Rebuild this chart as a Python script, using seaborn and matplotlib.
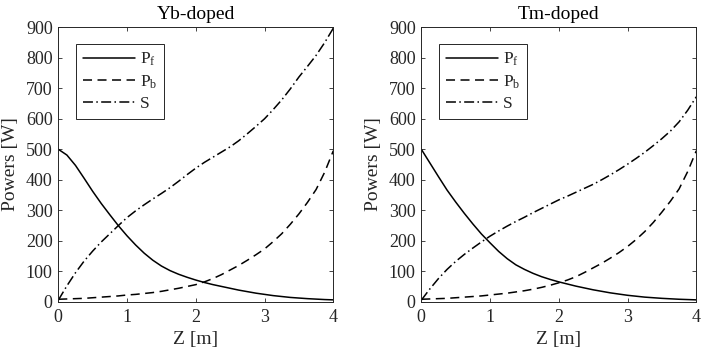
import matplotlib
matplotlib.use("Agg")
import matplotlib.pyplot as plt
import seaborn as sns
import pandas as pd

# ---- data ----
z = [0, 0.125, 0.25, 0.375, 0.5, 0.625, 0.75, 0.875, 1.0, 1.125, 1.25, 1.375, 1.5,
     1.625, 1.75, 1.875, 2.0, 2.125, 2.25, 2.375, 2.5, 2.625, 2.75, 2.875, 3.0,
     3.125, 3.25, 3.375, 3.5, 3.625, 3.75, 3.875, 4.0]

yb_pf = [500, 481, 447, 405, 362, 322, 285, 249, 216, 186, 159, 136, 117,
         102, 90, 80, 71, 63, 56, 50, 44, 38, 33, 28, 24,
         20, 17, 14, 12, 10, 8.5, 7, 6]
yb_pb = [8, 9, 10, 11, 13, 15, 17, 19, 22, 24, 27, 30, 34,
         39, 44, 50, 56, 65, 76, 89, 104, 119, 136, 154, 173,
         197, 223, 254, 288, 326, 368, 425, 495]
yb_s = [5, 52, 95, 133, 166, 196, 223, 250, 276, 298, 318, 337, 355,
        374, 395, 417, 438, 457, 474, 491, 508, 528, 551, 575, 600,
        630, 662, 698, 737, 772, 808, 850, 897]

tm_pf = [500, 455, 410, 366, 327, 290, 255, 222, 193, 165, 141, 121, 106,
         93, 82, 73, 65, 58, 51, 45, 39, 34, 29, 25, 21,
         18, 15, 13, 11, 9.5, 8, 7, 6]
tm_pb = [8, 9, 10, 11, 13, 15, 17, 19, 22, 25, 28, 32, 36,
         41, 47, 54, 62, 71, 82, 96, 111, 126, 143, 161, 181,
         204, 230, 260, 294, 330, 370, 427, 495]
tm_s = [5, 42, 76, 106, 132, 155, 176, 196, 215, 232, 248, 263, 277,
        292, 306, 320, 334, 346, 359, 372, 385, 400, 416, 433, 451,
        470, 490, 512, 535, 560, 590, 628, 672]

titles = ["Yb-doped", "Tm-doped"]
series_labels = [r"P$_\mathregular{f}$", r"P$_\mathregular{b}$", "S"]
x_ticks = [0, 1, 2, 3, 4]
y_ticks = [0, 100, 200, 300, 400, 500, 600, 700, 800, 900]
x_label = "Z [m]"
y_label = "Powers [W]"

# ---- style ----
sns.set_style("ticks")
plt.rcParams["font.family"] = ["Liberation Serif", "DejaVu Serif"]
plt.rcParams["mathtext.fontset"] = "custom"
plt.rcParams["mathtext.rm"] = "Liberation Serif"
plt.rcParams["mathtext.it"] = "Liberation Serif:italic"

fig = plt.figure(figsize=(7.05, 3.56), dpi=100)
ax1 = fig.add_axes([58.3 / 705, (356 - 301.7) / 356, 275 / 705, 274.4 / 356])
ax2 = fig.add_axes([421.3 / 705, (356 - 301.7) / 356, 275 / 705, 274.4 / 356])

lw = 1.1
styles = ["-", (0, (5.9, 3.6)), (0, (6.5, 2.2, 1, 2.2))]
panels = [(ax1, [yb_pf, yb_pb, yb_s]), (ax2, [tm_pf, tm_pb, tm_s])]

spine_col = "#262626"
for (ax, series), title in zip(panels, titles):
    for vals, lab, ls in zip(series, series_labels, styles):
        df = pd.DataFrame({"z": z, "p": vals})
        sns.lineplot(data=df, x="z", y="p", ax=ax, color="black", linewidth=lw,
                     linestyle=ls, label=lab)
    ax.set_xlim(0, 4)
    ax.set_ylim(0, 900)
    ax.set_xticks(x_ticks)
    ax.set_yticks(y_ticks)
    ax.tick_params(direction="in", length=3, width=0.6, top=True, right=True,
                   labelsize=13, colors=spine_col, labelcolor="#262626")
    ax.tick_params(axis="x", pad=5)
    ax.tick_params(axis="y", pad=4)
    for sp in ax.spines.values():
        sp.set_visible(True)
        sp.set_linewidth(0.7)
        sp.set_color(spine_col)
    ax.set_xlabel(x_label, fontsize=14, color="#262626", labelpad=4)
    ax.set_ylabel(y_label, fontsize=14, color="#262626", labelpad=5)
    ax.set_title(title, fontsize=14, color="black", pad=6)
    leg = ax.legend(loc="upper left", bbox_to_anchor=(0.063, 0.94), fontsize=12.5,
                    frameon=True, fancybox=False, framealpha=1, edgecolor=spine_col,
                    handlelength=3.0, handletextpad=0.3, labelspacing=0.3,
                    borderpad=0.4, borderaxespad=0)
    leg.get_frame().set_linewidth(0.7)

fig.savefig("out.png", dpi=100)
